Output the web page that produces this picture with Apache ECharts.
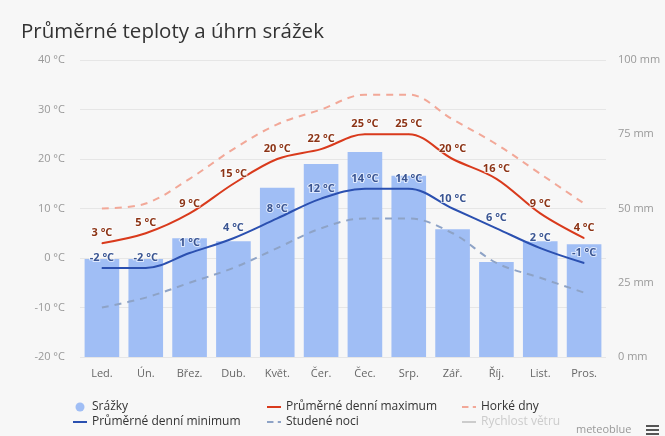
<!DOCTYPE html>
<html>
<head>
<meta charset="utf-8">
<script src="https://cdn.jsdelivr.net/npm/echarts@6/dist/echarts.min.js"></script>
<style>
html,body{margin:0;padding:0;background:#f7f7f7;}
#c{width:665px;height:436px;}
</style>
</head>
<body>
<div id="c"></div>
<script>
var months = ['Led.','Ún.','Břez.','Dub.','Květ.','Čer.','Čec.','Srp.','Zář.','Říj.','List.','Pros.'];
var precipitation = [33, 33, 40, 39, 57, 65, 69, 61, 43, 32, 39, 38];
var maxTemp = [3, 5, 9, 15, 20, 22, 25, 25, 20, 16, 9, 4];
var minTemp = [-2, -2, 1, 4, 8, 12, 14, 14, 10, 6, 2, -1];
var hotDays = [10, 11, 16, 22, 27, 30, 33, 33, 28, 23, 17, 11];
var coldNights = [-10, -8, -5, -2, 2, 6, 8, 8, 5, -1, -4, -7];
var windSpeed = [];

var FONT = '"Open Sans", "Noto Sans", sans-serif';
var LINE_ICON = 'path://M0,0h14v2h-14z';
var DASH_ICON = 'path://M0,0h6v2h-6z M10,0h3v2h-3z';
var chart = echarts.init(document.getElementById('c'));
var legendBase = {
  orient: 'vertical', itemWidth: 14, itemHeight: 9, itemGap: 3,
  textStyle: {color: '#333', fontSize: 12, fontFamily: FONT},
  inactiveColor: '#ccc',
  selected: {'Rychlost větru': false}
};
function lbl(color) {
  return {show: true, position: 'top', distance: 4, formatter: '{c} °C',
    color: color, fontSize: 11, fontWeight: 'bold',
    textBorderColor: 'rgba(255,255,255,0.65)', textBorderWidth: 2};
}
chart.setOption({
  backgroundColor: '#f7f7f7',
  textStyle: {fontFamily: FONT},
  title: {
    text: 'Průměrné teploty a úhrn srážek', left: 16, top: 17,
    textStyle: {fontSize: 20.5, fontWeight: 'normal', color: '#333', fontFamily: FONT}
  },
  legend: [
    Object.assign({}, legendBase, {left: 68, top: 396, data: [
      {name: 'Srážky', icon: 'circle'},
      {name: 'Průměrné denní minimum', icon: LINE_ICON}]}),
    Object.assign({}, legendBase, {left: 262, top: 396, data: [
      {name: 'Průměrné denní maximum', icon: LINE_ICON},
      {name: 'Studené noci', icon: DASH_ICON}]}),
    Object.assign({}, legendBase, {left: 457, top: 396, data: [
      {name: 'Horké dny', icon: DASH_ICON},
      {name: 'Rychlost větru', icon: LINE_ICON}]})
  ],
  grid: {left: 80, right: 59, top: 60, bottom: 79},
  xAxis: {
    type: 'category', data: months,
    axisLine: {show: false}, axisTick: {show: false},
    axisLabel: {color: '#666', fontSize: 11, margin: 11}
  },
  yAxis: [
    {
      type: 'value', min: -20, max: 40, interval: 10,
      axisLabel: {formatter: '{value} °C', color: '#999', fontSize: 11, margin: 15},
      splitLine: {lineStyle: {color: '#e6e6e6'}},
      axisLine: {show: false}, axisTick: {show: false}
    },
    {
      type: 'value', min: 0, max: 100, interval: 25, position: 'right',
      axisLabel: {formatter: '{value} mm', color: '#999', fontSize: 11, margin: 12},
      splitLine: {show: false},
      axisLine: {show: false}, axisTick: {show: false}
    }
  ],
  series: [
    {
      name: 'Srážky', type: 'bar', yAxisIndex: 1, data: precipitation,
      barCategoryGap: '21%', itemStyle: {color: '#a0bef5'}, z: 1
    },
    {
      name: 'Horké dny', type: 'line', data: hotDays, smooth: 0.35,
      symbol: 'none', lineStyle: {color: '#f2a898', width: 2, type: [7, 6]},
      itemStyle: {color: '#f2a898'}, z: 2
    },
    {
      name: 'Studené noci', type: 'line', data: coldNights, smooth: 0.35,
      symbol: 'none', lineStyle: {color: '#8ea3c6', width: 2, type: [7, 6]},
      itemStyle: {color: '#8ea3c6'}, z: 2
    },
    {
      name: 'Průměrné denní maximum', type: 'line', data: maxTemp, smooth: 0.35,
      symbol: 'circle', symbolSize: 1, showSymbol: true,
      lineStyle: {color: '#d93a1c', width: 2},
      itemStyle: {color: '#d93a1c'}, z: 3,
      label: lbl('#8c3416')
    },
    {
      name: 'Průměrné denní minimum', type: 'line', data: minTemp, smooth: 0.35,
      symbol: 'circle', symbolSize: 1, showSymbol: true,
      lineStyle: {color: '#2b50b0', width: 2},
      itemStyle: {color: '#2b50b0'}, z: 3,
      label: lbl('#3a5592')
    },
    {
      name: 'Rychlost větru', type: 'line', yAxisIndex: 1, data: windSpeed,
      symbol: 'none', lineStyle: {color: '#aaaaaa', width: 2}, itemStyle: {color: '#aaaaaa'}
    }
  ],
  graphic: [
    {type: 'text', left: 576, top: 424, style: {text: 'meteoblue', fill: '#999', fontSize: 11, fontFamily: FONT}},
    {type: 'rect', left: 646, top: 425, shape: {width: 13, height: 2}, style: {fill: '#555'}},
    {type: 'rect', left: 646, top: 429, shape: {width: 13, height: 2}, style: {fill: '#555'}},
    {type: 'rect', left: 646, top: 433, shape: {width: 13, height: 2}, style: {fill: '#555'}}
  ]
});
</script>
</body>
</html>
